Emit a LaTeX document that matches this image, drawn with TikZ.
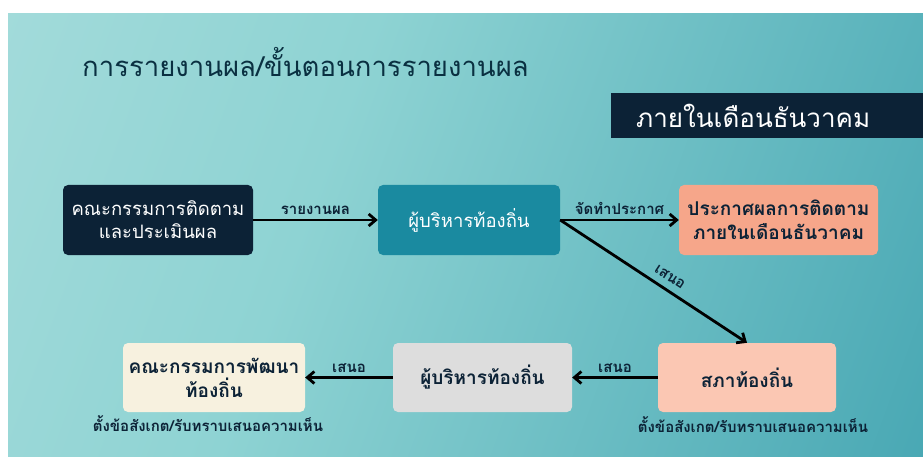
\documentclass[tikz,border=0pt]{standalone}
\usepackage{fontspec}
\newfontfamily\thai[Script=Thai]{Loma}
\usetikzlibrary{arrows.meta}
\definecolor{bgA}{HTML}{B2E1E0}
\definecolor{bgB}{HTML}{8ED3D3}
\definecolor{bgC}{HTML}{2C96A7}
\definecolor{navy}{HTML}{0C2236}
\definecolor{tealbox}{HTML}{1A8AA0}
\definecolor{salmon}{HTML}{F6A68A}
\definecolor{peach}{HTML}{FBC7B3}
\definecolor{greybox}{HTML}{DDDDDD}
\definecolor{cream}{HTML}{F7F1DF}
\pgfdeclarehorizontalshading{bgshade}{100bp}{color(0bp)=(bgA); color(40bp)=(bgB); color(100bp)=(bgC)}
\tikzset{
  box/.style={rounded corners=5pt, inner sep=0pt, align=center, font=\thai\fontsize{18.5}{23}\selectfont},
  darkbox/.style={box, fill=navy, text=white},
  lightbox/.style={box, text=navy, font=\thai\bfseries\fontsize{19}{24}\selectfont},
  arr/.style={-{Straight Barb[length=7pt,width=12pt]}, line width=2.8pt, black},
  lbl/.style={font=\thai\bfseries\fontsize{15}{17}\selectfont, text=navy, inner sep=3pt},
  note/.style={font=\thai\bfseries\fontsize{15}{17}\selectfont, text=navy}
}
\begin{document}
\begin{tikzpicture}[x=1pt,y=-1pt]
\useasboundingbox (0,0) rectangle (923,457);
\fill[white] (0,0) rectangle (923,457);
\shade[shading=bgshade, shading angle=-20] (8,14) rectangle (923,457);
% title
\node[anchor=west, inner sep=0pt, text=navy!85!teal, font=\thai\fontsize{27.5}{32}\selectfont] (title) at (82,62) {การรายงานผล/ขั้นตอนการรายงานผล};
% header
\node[anchor=west, fill=navy, text=white, inner xsep=25pt, inner ysep=0pt, minimum height=45pt, text width=262pt, align=left, font=\thai\fontsize{26}{30}\selectfont] (hdr) at (611,115.5) {ภายในเดือนธันวาคม};
% boxes
\node[darkbox, minimum width=190pt, minimum height=70pt] (b1) at (158,220) {คณะกรรมการติดตาม\\และประเมินผล};
\node[box, fill=tealbox, text=white, minimum width=182pt, minimum height=70pt] (b2) at (469,220) {ผู้บริหารท้องถิ่น};
\node[lightbox, fill=salmon, minimum width=199pt, minimum height=70pt] (b3) at (778.5,220) {ประกาศผลการติดตาม\\ภายในเดือนธันวาคม};
\node[lightbox, fill=peach, minimum width=178pt, minimum height=69pt] (b4) at (747,377.5) {สภาท้องถิ่น};
\node[lightbox, fill=greybox, minimum width=179pt, minimum height=69pt] (b5) at (482.5,377.5) {ผู้บริหารท้องถิ่น};
\node[lightbox, fill=cream, minimum width=182pt, minimum height=69pt] (b6) at (214,377.5) {คณะกรรมการพัฒนา\\ท้องถิ่น};
% notes
\node[note] (n6) at (208,424) {ตั้งข้อสังเกต/รับทราบเสนอความเห็น};
\node[note] (n4) at (753,425) {ตั้งข้อสังเกต/รับทราบเสนอความเห็น};
% connectors
\draw[arr] (b1) -- node[lbl, above=1pt] {รายงานผล} (b2);
\draw[arr] (b2) -- node[lbl, above=1pt] {จัดทำประกาศ} (b3);
\draw[arr] (b2.east) -- node[lbl, above=4pt, sloped, pos=0.55] {เสนอ} (b4.north);
\draw[arr] (b4) -- node[lbl, above=1pt] {เสนอ} (b5);
\draw[arr] (b5) -- node[lbl, above=1pt] {เสนอ} (b6);
\end{tikzpicture}
\end{document}
